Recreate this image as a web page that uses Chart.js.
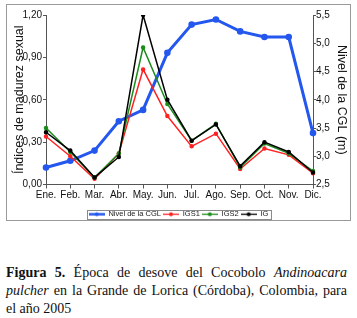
<!DOCTYPE html>
<html>
<head>
<meta charset="utf-8">
<script src="https://cdn.jsdelivr.net/npm/chart.js@4.4.0/dist/chart.umd.min.js"></script>
<style>
body{margin:0;background:#fff;width:357px;height:318px;position:relative;overflow:hidden}
#frame{position:absolute;left:6px;top:4px;width:345px;height:217px;border:1px solid #9a9a9a;box-sizing:border-box}
#frame canvas{display:block}
#caption{position:absolute;left:6px;top:264px;width:341px;font:14px "Liberation Serif",serif;line-height:18px;color:#111}
#caption span{display:block;text-align:justify;text-align-last:justify}
#caption span.last{text-align-last:left}
</style>
</head>
<body>
<div id="frame"><canvas id="canvas" width="343" height="215"></canvas></div>
<div id="caption">
<span><b>Figura 5.</b> Época de desove del Cocobolo <i>Andinoacara</i></span>
<span><i>pulcher</i> en la Grande de Lorica (Córdoba), Colombia, para</span>
<span class="last">el año 2005</span>
</div>
<script>
/* datos */
var meses = ['Ene.', 'Feb.', 'Mar.', 'Abr.', 'May.', 'Jun.', 'Jul.', 'Ago.', 'Sep.', 'Oct.', 'Nov.', 'Dic.'];
var nivelCGL = [2.80, 2.92, 3.10, 3.62, 3.82, 4.83, 5.33, 5.42, 5.21, 5.11, 5.11, 3.41];
var igs1 = [0.34, 0.20, 0.04, 0.22, 0.815, 0.485, 0.27, 0.36, 0.11, 0.255, 0.21, 0.08];
var igs2 = [0.40, 0.23, 0.05, 0.22, 0.97, 0.57, 0.31, 0.43, 0.12, 0.29, 0.22, 0.095];
var ig = [0.37, 0.24, 0.05, 0.195, 1.20, 0.60, 0.31, 0.425, 0.13, 0.30, 0.23, 0.085];

/* muestra de leyenda: linea con punto */
function muestra(color, ancho, r){
    var c = document.createElement('canvas');
    c.width = 16; c.height = 7;
    var g = c.getContext('2d');
    g.strokeStyle = color;
    g.lineWidth = ancho;
    g.beginPath(); g.moveTo(0, 3.5); g.lineTo(16, 3.5); g.stroke();
    g.fillStyle = color;
    g.beginPath(); g.arc(8, 3.5, r, 0, Math.PI*2); g.fill();
    return c;
}
var muestras = [muestra('#2457ee', 2.5, 2), muestra('#ff2222', 1.3, 2), muestra('#1c8c1c', 1.3, 2), muestra('#000', 1.3, 2)];

/* borde de la leyenda */
var bordeLeyenda = {
    id: 'bordeLeyenda',
    afterDraw: function(chart){
        var hb = chart.legend.legendHitBoxes;
        if(!hb || !hb.length) return;
        var l = Math.min.apply(null, hb.map(function(h){ return h.left; }));
        var r = Math.max.apply(null, hb.map(function(h){ return h.left + h.width; }));
        var t = hb[0].top, h = hb[0].height;
        var ctx = chart.ctx;
        ctx.save();
        ctx.strokeStyle = '#8a8a8a';
        ctx.lineWidth = 1;
        ctx.strokeRect(Math.round(l - 2) + 0.5, Math.round(t - 1) + 0.5, Math.round(r - l + 4), Math.round(h + 1));
        ctx.restore();
    }
};

var fuente = 'Liberation Sans, Arial, sans-serif';
var ejeColor = '#555';

var ctx = document.getElementById('canvas');
new Chart(ctx, {
    type: 'line',
    data: {
        labels: meses,
        datasets: [{
            label: 'Nivel de la CGL',
            data: nivelCGL,
            yAxisID: 'y1',
            borderColor: '#2457ee',
            backgroundColor: '#2457ee',
            borderWidth: 3,
            pointRadius: 1.8,
            order: 4
        },
        {
            label: 'IGS1',
            data: igs1,
            yAxisID: 'y',
            borderColor: '#ff2222',
            backgroundColor: '#ff2222',
            borderWidth: 1.5,
            pointRadius: 1.5,
            order: 3
        },
        {
            label: 'IGS2',
            data: igs2,
            yAxisID: 'y',
            borderColor: '#1c8c1c',
            backgroundColor: '#1c8c1c',
            borderWidth: 1.5,
            pointRadius: 1.5,
            order: 2
        },
        {
            label: 'IG',
            data: ig,
            yAxisID: 'y',
            borderColor: '#000',
            backgroundColor: '#000',
            borderWidth: 1.5,
            pointRadius: 1.5,
            order: 1
        }]
    },
    options: {
        responsive: false,
        animation: false,
        layout: { padding: { top: 10, bottom: -8, left: 0, right: 0 } },
        elements: {
            line: { tension: 0 },
            point: { pointStyle: 'circle', borderWidth: 1 }
        },
        plugins: {
            tooltip: { enabled: false },
            legend: {
                position: 'bottom',
                labels: {
                    usePointStyle: true,
                    pointStyleWidth: 16,
                    padding: 2,
                    color: '#222',
                    font: { family: fuente, size: 7.5 },
                    sort: function(a, b){ return a.datasetIndex - b.datasetIndex; },
                    generateLabels: function(chart){
                        var items = Chart.defaults.plugins.legend.labels.generateLabels(chart);
                        items.forEach(function(it){ it.pointStyle = muestras[it.datasetIndex]; });
                        return items;
                    }
                }
            }
        },
        scales: {
            x: {
                offset: false,
                afterFit: function(s){ s.height = 24; },
                grid: { drawOnChartArea: false, drawTicks: true, tickLength: 4, color: ejeColor },
                border: { color: ejeColor },
                ticks: { color: '#111', font: { family: fuente, size: 10 }, padding: 1, maxRotation: 0, autoSkip: false }
            },
            y: {
                position: 'left',
                min: 0,
                max: 1.2,
                afterFit: function(s){ s.width = 39; },
                grid: { drawOnChartArea: false, drawTicks: true, tickLength: 3, color: ejeColor },
                border: { color: ejeColor },
                ticks: {
                    stepSize: 0.3,
                    padding: 1,
                    color: '#111',
                    font: { family: fuente, size: 10 },
                    callback: function(v){ return v.toFixed(2).replace('.', ','); }
                },
                title: { display: true, text: 'Índices de madurez sexual', color: '#111', font: { family: fuente, size: 12.5 }, padding: { top: 5, bottom: 0 } }
            },
            y1: {
                position: 'right',
                min: 2.5,
                max: 5.5,
                afterFit: function(s){ s.width = 37; },
                grid: { drawOnChartArea: false, drawTicks: true, tickLength: 3, color: ejeColor },
                border: { color: ejeColor },
                ticks: {
                    stepSize: 0.5,
                    padding: 0,
                    color: '#111',
                    font: { family: fuente, size: 10 },
                    callback: function(v){ return v.toFixed(1).replace('.', ','); }
                },
                title: { display: true, text: 'Nivel de la CGL (m)', color: '#111', font: { family: fuente, size: 12.5 }, padding: { top: 1, bottom: 0 } }
            }
        }
    },
    plugins: [bordeLeyenda]
});
</script>
</body>
</html>
